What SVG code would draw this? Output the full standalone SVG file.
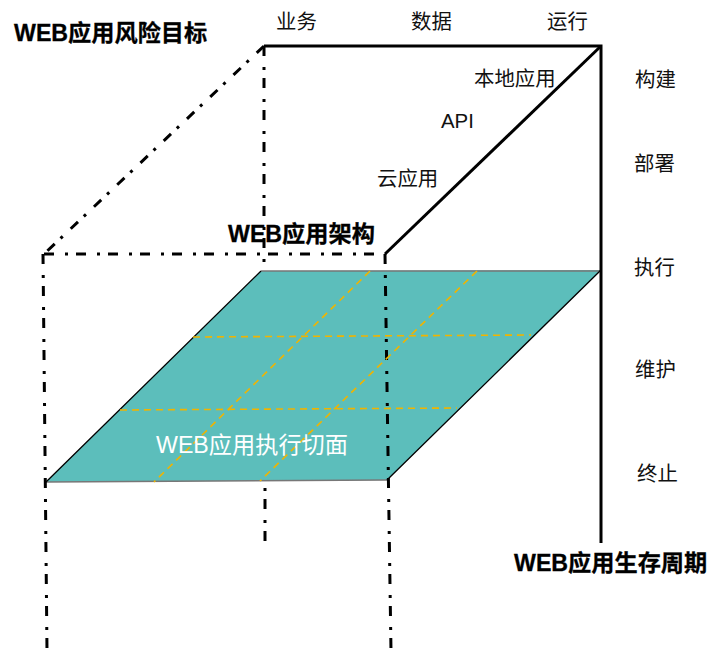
<svg xmlns="http://www.w3.org/2000/svg" width="728" height="651" viewBox="0 0 728 651">
<style>
text{font-family:"Liberation Sans","Noto Sans CJK SC",sans-serif;fill:#000}
.t{font-size:20.4px;fill:#111}
.b{font-size:23.2px;font-weight:bold;stroke:#000;stroke-width:.3px}
.s{fill:none;stroke:#000;stroke-width:3}
.d{fill:none;stroke:#000;stroke-width:3;stroke-dasharray:10 11 3 8}
.g{fill:none;stroke:#f0b400;stroke-width:1.6;stroke-dasharray:7 5}
</style>
<rect width="728" height="651" fill="#fff"/>
<g id="plane">
<polygon points="261,271 601,270 387,480 46,482" fill="#5cbebb"/>
<path d="M261,271H601M46,482L387,480" fill="none" stroke="#777" stroke-width="1.5"/>
<path d="M261,271L46,482M601,270L387,480" fill="none" stroke="#000" stroke-width="1.3"/>
</g>
<g id="connectors">
<path class="s" d="M264,46H601V543"/>
<path class="s" d="M601,46L385,254"/>
<path class="d" d="M264,46L44,254"/>
<path class="d" d="M264,46V268"/>
<path class="d" d="M265,484V543" stroke-dashoffset="17"/>
<path class="d" d="M44,254H385"/>
<path class="d" d="M43,254L47,651"/>
<path class="d" d="M385,254L391,651"/>
<path class="g" d="M193,337L531,335"/>
<path class="g" d="M120,410L457,408"/>
<path class="g" d="M370,271L154,482"/>
<path class="g" d="M477,271L260,481"/>
</g>
<g id="title-risk"><text class="b" x="14" y="41">WEB应用风险目标</text></g>
<g id="title-arch"><text class="b" x="228" y="242">WEB应用架构</text></g>
<g id="title-life"><text class="b" x="514" y="571">WEB应用生存周期</text></g>
<g id="col-biz"><text class="t" x="276" y="29">业务</text></g>
<g id="col-data"><text class="t" x="411" y="29">数据</text></g>
<g id="col-run"><text class="t" x="547" y="29">运行</text></g>
<g id="row-local"><text class="t" x="474" y="86">本地应用</text></g>
<g id="row-api"><text class="t" x="441" y="128">API</text></g>
<g id="row-cloud"><text class="t" x="377" y="186">云应用</text></g>
<g id="st-build"><text class="t" x="635" y="87">构建</text></g>
<g id="st-deploy"><text class="t" x="634" y="171">部署</text></g>
<g id="st-exec"><text class="t" x="634" y="275">执行</text></g>
<g id="st-maintain"><text class="t" x="635" y="377">维护</text></g>
<g id="st-end"><text class="t" x="637" y="481">终止</text></g>
<g id="plane-label"><text x="156" y="453" font-size="23.2" style="fill:#fff">WEB应用执行切面</text></g>
</svg>
